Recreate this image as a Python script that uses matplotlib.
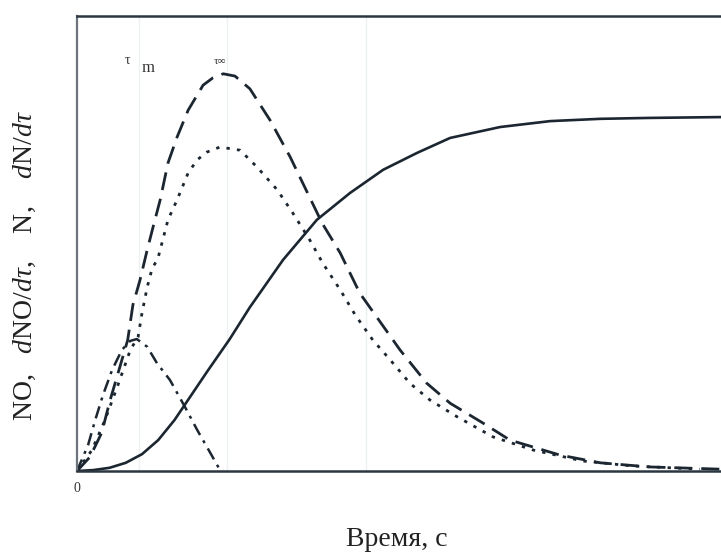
import matplotlib
matplotlib.use("Agg")
import matplotlib.pyplot as plt

plt.rcParams["font.family"] = ["Liberation Serif", "DejaVu Serif"]
plt.rcParams["mathtext.fontset"] = "custom"
plt.rcParams["mathtext.rm"] = "Liberation Serif"
plt.rcParams["mathtext.it"] = "Liberation Serif:italic"

# N (accumulated), solid
t_n = [0, 0.25, 0.5, 0.75, 1.0, 1.25, 1.5, 1.75, 2.0, 2.35, 2.66, 3.17, 3.69, 4.2, 4.71,
       5.23, 5.74, 6.51, 7.28, 8.05, 8.8, 10.0]
n_val = [0, 0.02, 0.07, 0.18, 0.37, 0.68, 1.12, 1.65, 2.18, 2.9, 3.6, 4.64, 5.52, 6.11, 6.62,
         6.99, 7.32, 7.56, 7.69, 7.74, 7.76, 7.78]

# dN/dtau, long dashes
t_dn = [0, 0.2, 0.38, 0.51, 0.66, 0.78, 0.86, 0.97, 1.08, 1.17, 1.28, 1.4, 1.54, 1.71, 1.94,
        2.09, 2.25, 2.43, 2.66, 2.97, 3.28, 3.77, 4.05, 4.35, 4.97, 5.38, 5.74, 6.25, 6.66,
        7.43, 8.05, 8.8, 9.9]
dn_val = [0, 0.31, 0.84, 1.56, 2.29, 2.88, 3.65, 4.2, 4.86, 5.36, 5.96, 6.77, 7.34, 7.93, 8.48,
          8.64, 8.73, 8.68, 8.4, 7.71, 6.9, 5.45, 4.79, 3.91, 2.66, 1.93, 1.49, 1.05, 0.68,
          0.35, 0.18, 0.09, 0.04]

# dNO/dtau, dotted
t_dno = [0, 0.23, 0.43, 0.63, 0.82, 0.94, 1.0, 1.08, 1.15, 1.25, 1.4, 1.54, 1.71, 1.85, 2.0,
         2.2, 2.51, 2.77, 3.08, 3.32, 3.58, 3.78, 4.05, 4.28, 4.55, 4.82, 5.12, 5.43, 5.85,
         6.4, 7.02, 7.78, 8.55, 9.58]
dno_val = [0, 0.46, 1.12, 1.89, 2.66, 2.95, 3.47, 4.04, 4.42, 4.7, 5.52, 5.96, 6.55, 6.84, 7.01,
           7.12, 7.05, 6.68, 6.18, 5.67, 5.08, 4.57, 3.98, 3.43, 2.88, 2.44, 1.93, 1.56, 1.19,
           0.75, 0.46, 0.22, 0.11, 0.04]

# NO, dash-dot
t_no = [0, 0.17, 0.28, 0.4, 0.54, 0.69, 0.82, 0.92, 1.08, 1.23, 1.43, 1.66, 1.85, 2.05, 2.2]
no_val = [0, 0.57, 1.12, 1.67, 2.22, 2.66, 2.86, 2.9, 2.73, 2.37, 2.0, 1.41, 0.9, 0.4, 0.02]

ink = "#1b2631"

fig = plt.figure(figsize=(7.21, 5.54), dpi=100)
ax = fig.add_axes([77 / 721, 83 / 554, 650 / 721, 455 / 554])
ax.set_xlim(0, 10)
ax.set_ylim(0, 10)

for gx in [0.95, 2.3, 4.45]:
    ax.axvline(gx, color="#eef1f3", lw=1.0, zorder=0)

ax.plot(t_n, n_val, color=ink, lw=1.9, solid_capstyle="round", solid_joinstyle="round")
ax.plot(t_dn, dn_val, color=ink, lw=2.0, dashes=(6.5, 3.2))
ax.plot(t_dno, dno_val, color=ink, lw=2.0, dashes=(1.2, 2.6))
ax.plot(t_no, no_val, color=ink, lw=1.8, dashes=(5, 2.5, 1.2, 2.5))

ax.text(0.78, 9.02, "τ", fontsize=10, color="#333333", ha="center", va="center")
ax.text(1.10, 8.85, "m", fontsize=12, color="#333333", ha="center", va="center")
ax.text(2.2, 9.0, "τ∞", fontsize=8, color="#333333", ha="center", va="center")

for side in ["top", "bottom"]:
    ax.spines[side].set_color("#2b3640")
    ax.spines[side].set_linewidth(1.8)
ax.spines["left"].set_color("#6d747c")
ax.spines["left"].set_linewidth(1.6)
ax.spines["right"].set_visible(False)

ax.set_xticks([0])
ax.set_xticklabels(["0"], fontsize=10, color="#333333")
ax.tick_params(axis="x", length=0, pad=8)
ax.set_yticks([])

fig.text(397 / 721, 1 - 539 / 554, "Время, с", fontsize=20, color="#222222",
         ha="center", va="center")
fig.text(25 / 721, 1 - 266 / 554, r"NO,   $d$NO/$d\tau$,    N,    $d$N/$d\tau$", fontsize=20,
         color="#222222", rotation=90, ha="center", va="center")

fig.savefig("out.png", dpi=100)
